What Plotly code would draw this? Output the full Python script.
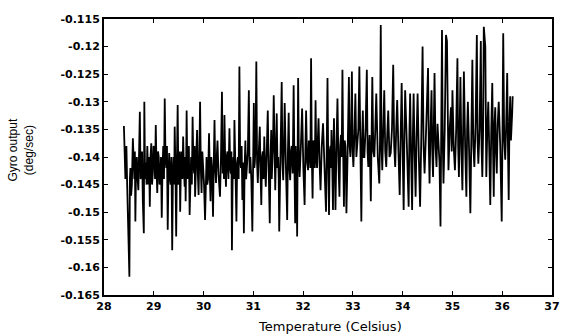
import plotly.graph_objects as go

temperature = [
    28.40, 28.415, 28.43, 28.44, 28.45, 28.465, 28.48, 28.51, 28.52, 28.53, 28.545, 28.56,
    28.58, 28.595, 28.61, 28.62, 28.63, 28.645, 28.66, 28.675, 28.69, 28.705, 28.72, 28.735,
    28.75, 28.765, 28.78, 28.80, 28.81, 28.825, 28.84, 28.855, 28.87, 28.88, 28.89, 28.905,
    28.92, 28.935, 28.95, 28.965, 28.98, 28.995, 29.01, 29.025, 29.04, 29.055, 29.07, 29.085,
    29.10, 29.115, 29.13, 29.145, 29.16, 29.175, 29.19, 29.205, 29.22, 29.235, 29.25, 29.265,
    29.28, 29.295, 29.31, 29.325, 29.34, 29.355, 29.37, 29.385, 29.40, 29.41, 29.42, 29.435,
    29.45, 29.465, 29.48, 29.495, 29.51, 29.52, 29.53, 29.545, 29.56, 29.575, 29.59, 29.605,
    29.62, 29.63, 29.64, 29.65, 29.66, 29.675, 29.69, 29.705, 29.72, 29.735, 29.75, 29.765,
    29.78, 29.795, 29.81, 29.82, 29.83, 29.85, 29.87, 29.885, 29.90, 29.915, 29.93, 29.945,
    29.96, 29.975, 29.99, 30.01, 30.03, 30.045, 30.06, 30.075, 30.09, 30.10, 30.11, 30.125,
    30.14, 30.155, 30.17, 30.18, 30.19, 30.205, 30.22, 30.235, 30.25, 30.265, 30.28, 30.30,
    30.33, 30.35, 30.37, 30.385, 30.40, 30.41, 30.42, 30.435, 30.45, 30.465, 30.48, 30.50,
    30.52, 30.535, 30.55, 30.56, 30.57, 30.585, 30.60, 30.61, 30.62, 30.64, 30.66, 30.675,
    30.69, 30.705, 30.72, 30.735, 30.75, 30.765, 30.78, 30.795, 30.81, 30.825, 30.84, 30.855,
    30.87, 30.89, 30.91, 30.925, 30.94, 30.96, 30.98, 30.995, 31.01, 31.02, 31.03, 31.045,
    31.06, 31.075, 31.09, 31.11, 31.13, 31.145, 31.16, 31.175, 31.19, 31.205, 31.22, 31.235,
    31.25, 31.27, 31.29, 31.31, 31.33, 31.345, 31.36, 31.37, 31.38, 31.395, 31.41, 31.425,
    31.44, 31.455, 31.47, 31.485, 31.50, 31.51, 31.52, 31.545, 31.57, 31.585, 31.60, 31.615,
    31.63, 31.655, 31.68, 31.695, 31.71, 31.725, 31.74, 31.755, 31.77, 31.79, 31.81, 31.825,
    31.84, 31.85, 31.86, 31.87, 31.88, 31.90, 31.915, 31.93, 31.955, 31.98, 32.005, 32.03,
    32.045, 32.06, 32.08, 32.10, 32.115, 32.13, 32.145, 32.16, 32.175, 32.19, 32.205, 32.22,
    32.235, 32.25, 32.265, 32.28, 32.295, 32.31, 32.33, 32.35, 32.375, 32.40, 32.43, 32.46,
    32.475, 32.49, 32.505, 32.52, 32.535, 32.55, 32.56, 32.57, 32.585, 32.60, 32.61, 32.62,
    32.635, 32.65, 32.67, 32.69, 32.71, 32.73, 32.745, 32.76, 32.775, 32.79, 32.805, 32.82,
    32.835, 32.85, 32.86, 32.87, 32.895, 32.92, 32.935, 32.95, 32.965, 32.98, 32.995, 33.01,
    33.03, 33.05, 33.07, 33.09, 33.11, 33.13, 33.15, 33.17, 33.185, 33.20, 33.215, 33.23,
    33.255, 33.28, 33.295, 33.31, 33.335, 33.36, 33.375, 33.39, 33.41, 33.43, 33.45, 33.47,
    33.50, 33.53, 33.545, 33.56, 33.575, 33.59, 33.61, 33.63, 33.65, 33.67, 33.69, 33.71,
    33.735, 33.76, 33.785, 33.81, 33.83, 33.85, 33.87, 33.89, 33.915, 33.94, 33.96, 33.98,
    34.00, 34.02, 34.035, 34.05, 34.085, 34.12, 34.135, 34.15, 34.17, 34.19, 34.205, 34.22,
    34.24, 34.26, 34.28, 34.30, 34.325, 34.35, 34.375, 34.40, 34.42, 34.44, 34.475, 34.51,
    34.525, 34.54, 34.56, 34.58, 34.595, 34.61, 34.625, 34.64, 34.66, 34.68, 34.70, 34.72,
    34.74, 34.76, 34.775, 34.79, 34.805, 34.82, 34.845, 34.87, 34.89, 34.905, 34.92, 34.945,
    34.97, 34.985, 35.00, 35.025, 35.05, 35.075, 35.10, 35.115, 35.13, 35.145, 35.16, 35.18,
    35.20, 35.215, 35.23, 35.255, 35.28, 35.295, 35.31, 35.335, 35.36, 35.38, 35.40, 35.42,
    35.44, 35.465, 35.49, 35.505, 35.52, 35.545, 35.57, 35.585, 35.60, 35.615, 35.63, 35.66,
    35.67, 35.68, 35.70, 35.72, 35.74, 35.76, 35.78, 35.80, 35.815, 35.83, 35.845, 35.86,
    35.875, 35.89, 35.91, 35.93, 35.96, 35.99, 36.005, 36.02, 36.04, 36.06, 36.08, 36.10,
    36.115, 36.13, 36.145, 36.16, 36.175, 36.19, 36.20, 36.21,
]

gyro_output = [
    -0.1344, -0.1420, -0.1440, -0.1400, -0.1380, -0.1450, -0.1520, -0.1617, -0.1440, -0.1420, -0.1470, -0.1450,
    -0.1366, -0.1430, -0.1440, -0.1390, -0.1517, -0.1410, -0.1400, -0.1440, -0.1460, -0.1390, -0.1318, -0.1440,
    -0.1420, -0.1390, -0.1480, -0.1538, -0.1300, -0.1440, -0.1410, -0.1450, -0.1380, -0.1430, -0.1450, -0.1400,
    -0.1490, -0.1400, -0.1375, -0.1450, -0.1430, -0.1380, -0.1390, -0.1440, -0.1342, -0.1420, -0.1465, -0.1390,
    -0.1400, -0.1450, -0.1440, -0.1400, -0.1510, -0.1420, -0.1380, -0.1440, -0.1294, -0.1400, -0.1420, -0.1380,
    -0.1532, -0.1430, -0.1393, -0.1440, -0.1450, -0.1400, -0.1569, -0.1430, -0.1400, -0.1450, -0.1345, -0.1420,
    -0.1544, -0.1410, -0.1306, -0.1450, -0.1430, -0.1390, -0.1499, -0.1420, -0.1390, -0.1440, -0.1363, -0.1420,
    -0.1454, -0.1400, -0.1480, -0.1420, -0.1316, -0.1440, -0.1420, -0.1380, -0.1505, -0.1410, -0.1400, -0.1450,
    -0.1327, -0.1410, -0.1430, -0.1380, -0.1472, -0.1410, -0.1351, -0.1430, -0.1469, -0.1400, -0.1300, -0.1420,
    -0.1465, -0.1390, -0.1410, -0.1450, -0.1514, -0.1420, -0.1400, -0.1450, -0.1440, -0.1400, -0.1357, -0.1430,
    -0.1480, -0.1400, -0.1420, -0.1460, -0.1508, -0.1410, -0.1333, -0.1420, -0.1447, -0.1400, -0.1370, -0.1430,
    -0.1472, -0.1400, -0.1282, -0.1430, -0.1400, -0.1440, -0.1324, -0.1410, -0.1454, -0.1400, -0.1390, -0.1440,
    -0.1348, -0.1420, -0.1430, -0.1390, -0.1569, -0.1430, -0.1400, -0.1440, -0.1333, -0.1420, -0.1517, -0.1410,
    -0.1400, -0.1440, -0.1236, -0.1400, -0.1420, -0.1380, -0.1478, -0.1410, -0.1538, -0.1420, -0.1370, -0.1440,
    -0.1420, -0.1390, -0.1279, -0.1430, -0.1400, -0.1440, -0.1535, -0.1410, -0.1302, -0.1420, -0.1410, -0.1380,
    -0.1227, -0.1410, -0.1447, -0.1390, -0.1345, -0.1430, -0.1487, -0.1400, -0.1390, -0.1440, -0.1363, -0.1420,
    -0.1454, -0.1390, -0.1316, -0.1430, -0.1520, -0.1400, -0.1351, -0.1440, -0.1420, -0.1380, -0.1288, -0.1420,
    -0.1460, -0.1390, -0.1321, -0.1420, -0.1400, -0.1440, -0.1535, -0.1400, -0.1264, -0.1410, -0.1442, -0.1380,
    -0.1302, -0.1420, -0.1514, -0.1390, -0.1320, -0.1420, -0.1442, -0.1390, -0.1380, -0.1430, -0.1270, -0.1410,
    -0.1520, -0.1380, -0.1400, -0.1440, -0.1544, -0.1257, -0.1400, -0.1436, -0.1380, -0.1312, -0.1420, -0.1487,
    -0.1390, -0.1316, -0.1410, -0.1424, -0.1370, -0.1380, -0.1420, -0.1221, -0.1400, -0.1475, -0.1370, -0.1380,
    -0.1420, -0.1297, -0.1400, -0.1420, -0.1370, -0.1330, -0.1410, -0.1460, -0.1380, -0.1339, -0.1420, -0.1499,
    -0.1380, -0.1257, -0.1410, -0.1505, -0.1390, -0.1380, -0.1420, -0.1351, -0.1410, -0.1496, -0.1380, -0.1330,
    -0.1410, -0.1496, -0.1380, -0.1294, -0.1410, -0.1472, -0.1380, -0.1360, -0.1400, -0.1242, -0.1390, -0.1490,
    -0.1370, -0.1380, -0.1420, -0.1502, -0.1390, -0.1255, -0.1380, -0.1400, -0.1360, -0.1245, -0.1390, -0.1418,
    -0.1360, -0.1285, -0.1400, -0.1380, -0.1350, -0.1236, -0.1390, -0.1517, -0.1370, -0.1316, -0.1400, -0.1400,
    -0.1350, -0.1242, -0.1390, -0.1418, -0.1360, -0.1480, -0.1370, -0.1255, -0.1390, -0.1400, -0.1350, -0.1285,
    -0.1400, -0.1448, -0.1370, -0.1161, -0.1380, -0.1424, -0.1350, -0.1279, -0.1390, -0.1418, -0.1360, -0.1316,
    -0.1400, -0.1393, -0.1350, -0.1233, -0.1380, -0.1418, -0.1350, -0.1297, -0.1390, -0.1469, -0.1360, -0.1266,
    -0.1390, -0.1496, -0.1360, -0.1279, -0.1380, -0.1490, -0.1360, -0.1285, -0.1400, -0.1496, -0.1360, -0.1285,
    -0.1390, -0.1472, -0.1360, -0.1285, -0.1400, -0.1490, -0.1360, -0.1200, -0.1380, -0.1430, -0.1340, -0.1239,
    -0.1380, -0.1448, -0.1350, -0.1279, -0.1390, -0.1436, -0.1350, -0.1248, -0.1380, -0.1418, -0.1340, -0.1380,
    -0.1410, -0.1526, -0.1360, -0.1170, -0.1370, -0.1448, -0.1350, -0.1179, -0.1190, -0.1360, -0.1424, -0.1350,
    -0.1310, -0.1390, -0.1279, -0.1380, -0.1424, -0.1350, -0.1221, -0.1380, -0.1436, -0.1350, -0.1255, -0.1390,
    -0.1460, -0.1350, -0.1245, -0.1380, -0.1472, -0.1350, -0.1300, -0.1390, -0.1502, -0.1360, -0.1224, -0.1380,
    -0.1418, -0.1340, -0.1179, -0.1370, -0.1412, -0.1350, -0.1190, -0.1380, -0.1436, -0.1360, -0.1164, -0.1200,
    -0.1380, -0.1436, -0.1350, -0.1300, -0.1390, -0.1487, -0.1350, -0.1266, -0.1380, -0.1472, -0.1340, -0.1310,
    -0.1390, -0.1430, -0.1340, -0.1300, -0.1380, -0.1517, -0.1360, -0.1176, -0.1370, -0.1405, -0.1340, -0.1248,
    -0.1380, -0.1478, -0.1340, -0.1290, -0.1370, -0.1350, -0.1320, -0.1290,
]

x_ticks = [28, 29, 30, 31, 32, 33, 34, 35, 36, 37]
y_ticks = [-0.115, -0.12, -0.125, -0.13, -0.135, -0.14, -0.145, -0.15, -0.155, -0.16, -0.165]
y_tick_labels = ["-0.115", "-0.12", "-0.125", "-0.13", "-0.135", "-0.14",
                 "-0.145", "-0.15", "-0.155", "-0.16", "-0.165"]

fig = go.Figure()
fig.add_trace(go.Scatter(
    x=temperature, y=gyro_output, mode="lines",
    line=dict(color="black", width=1.8), showlegend=False,
))

tick_font = dict(family="DejaVu Sans", size=11, color="black", weight="bold")
axis_common = dict(
    showline=True, linecolor="black", linewidth=2, mirror="ticks",
    ticks="inside", ticklen=4, tickwidth=1.2, tickcolor="black",
    showgrid=False, zeroline=False, tickfont=tick_font,
)

fig.update_xaxes(range=[28, 37], tickvals=x_ticks,
                 ticktext=[str(v) for v in x_ticks], **axis_common)
fig.update_yaxes(range=[-0.165, -0.115], tickvals=y_ticks,
                 ticktext=y_tick_labels, **axis_common)

W, H = 571, 334
L, R, T, B = 104, 11, 19, 39
pw, ph = W - L - R, H - T - B

fig.add_annotation(
    text="Gyro output<br>(deg/sec)", textangle=-90, showarrow=False,
    xref="paper", yref="paper",
    x=(20 - L) / pw, y=(H - B - 150) / ph, xanchor="center", yanchor="middle",
    font=dict(family="Liberation Sans", size=12, color="black"),
)
fig.add_annotation(
    text="Temperature (Celsius)", showarrow=False,
    xref="paper", yref="paper",
    x=(334 - L) / pw, y=(H - B - 326) / ph, xanchor="center", yanchor="middle",
    font=dict(family="DejaVu Sans", size=13, color="black"),
)

fig.update_layout(
    width=W, height=H,
    margin=dict(l=L, r=R, t=T, b=B, pad=0),
    paper_bgcolor="white", plot_bgcolor="white",
)

fig.write_html("out.html")
